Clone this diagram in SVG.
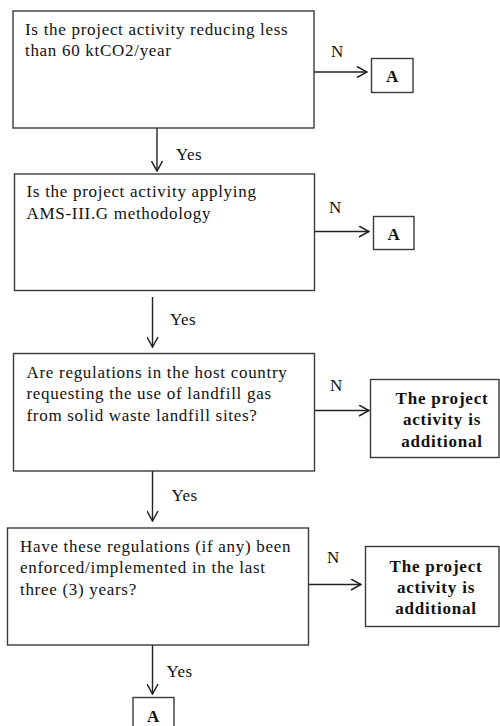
<svg xmlns="http://www.w3.org/2000/svg" width="500" height="726" viewBox="0 0 500 726">
<style>
.box{fill:#fff;stroke:#3a3a3a;stroke-width:1.4}
.q{font-family:"Liberation Serif","Times New Roman",serif;font-size:17px;letter-spacing:0.7px;fill:#111}
.lbl{font-family:"Liberation Serif","Times New Roman",serif;font-size:17px;letter-spacing:0.5px;fill:#111}
.b{font-family:"Liberation Serif","Times New Roman",serif;font-size:17px;font-weight:bold;letter-spacing:0.8px;fill:#111;text-anchor:middle}
.c{stroke:#222;stroke-width:1.4;fill:none}
</style>
<defs>
<marker id="ah" viewBox="0 0 12 12" refX="11" refY="6" markerWidth="12" markerHeight="12" markerUnits="userSpaceOnUse" orient="auto">
<path d="M1,0.5 L11,6 L1,11.5" fill="none" stroke="#222" stroke-width="1.5"/>
</marker>
</defs>
<g id="connectors">
<line class="c" x1="157" y1="128" x2="157" y2="171" marker-end="url(#ah)"/>
<line class="c" x1="314" y1="72" x2="367" y2="72" marker-end="url(#ah)"/>
<line class="c" x1="152.5" y1="297" x2="152.5" y2="347" marker-end="url(#ah)"/>
<line class="c" x1="315" y1="231.5" x2="369" y2="231.5" marker-end="url(#ah)"/>
<line class="c" x1="152.5" y1="471" x2="152.5" y2="521" marker-end="url(#ah)"/>
<line class="c" x1="315" y1="410.5" x2="369" y2="410.5" marker-end="url(#ah)"/>
<line class="c" x1="152.5" y1="645" x2="152.5" y2="694" marker-end="url(#ah)"/>
<line class="c" x1="309" y1="584.5" x2="361" y2="584.5" marker-end="url(#ah)"/>
<text class="lbl" x="176" y="160">Yes</text>
<text class="lbl" x="170" y="325">Yes</text>
<text class="lbl" x="171.5" y="500.5">Yes</text>
<text class="lbl" x="166.5" y="676.5">Yes</text>
<text class="lbl" x="331" y="57">N</text>
<text class="lbl" x="329" y="212.5">N</text>
<text class="lbl" x="330" y="390.5">N</text>
<text class="lbl" x="327" y="563">N</text>
</g>
<g id="q1">
<rect class="box" x="13" y="11" width="301" height="117"/>
<text class="q" x="25" y="35">Is the project activity reducing less</text>
<text class="q" x="25" y="56">than 60 ktCO2/year</text>
</g>
<g id="a1">
<rect class="box" x="371.5" y="58.5" width="41.5" height="34"/>
<text class="b" x="392.5" y="82">A</text>
</g>
<g id="q2">
<rect class="box" x="14.5" y="174" width="300" height="116.5"/>
<text class="q" x="26.5" y="197">Is the project activity applying</text>
<text class="q" x="26.5" y="219">AMS-III.G methodology</text>
</g>
<g id="a2">
<rect class="box" x="373.5" y="216.5" width="40.5" height="33"/>
<text class="b" x="394" y="240">A</text>
</g>
<g id="q3">
<rect class="box" x="13.5" y="353.5" width="301" height="117.5"/>
<text class="q" x="26.5" y="377.5">Are regulations in the host country</text>
<text class="q" x="26.5" y="399">requesting the use of landfill gas</text>
<text class="q" x="26.5" y="421">from solid waste landfill sites?</text>
</g>
<g id="r3">
<rect class="box" x="370.5" y="379.5" width="128.5" height="78"/>
<text class="b" x="442" y="403.5">The project</text>
<text class="b" x="442" y="425">activity is</text>
<text class="b" x="442" y="446.5">additional</text>
</g>
<g id="q4">
<rect class="box" x="7.5" y="528" width="301" height="117"/>
<text class="q" x="20" y="551.5">Have these regulations (if any) been</text>
<text class="q" x="20" y="573">enforced/implemented in the last</text>
<text class="q" x="20" y="595">three (3) years?</text>
</g>
<g id="r4">
<rect class="box" x="365.5" y="546.5" width="133.5" height="80"/>
<text class="b" x="436" y="571.5">The project</text>
<text class="b" x="436" y="592.5">activity is</text>
<text class="b" x="436" y="614">additional</text>
</g>
<g id="a3">
<rect class="box" x="133" y="697.5" width="41" height="40"/>
<text class="b" x="153.5" y="721.5">A</text>
</g>
</svg>
